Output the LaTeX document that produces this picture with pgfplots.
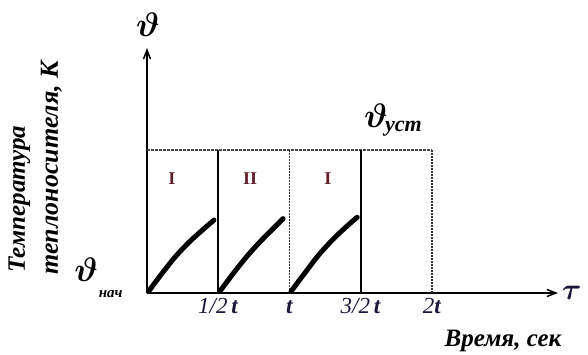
\RequirePackage{fix-cm}
\documentclass[border=0pt]{standalone}
\usepackage{amsmath,bm}
\usepackage{fontspec}
\setmainfont{Liberation Serif}
\usepackage{pgfplots}
\pgfplotsset{compat=1.18}
\usetikzlibrary{arrows.meta}
\definecolor{numred}{RGB}{95,30,40}
\definecolor{ticknavy}{RGB}{30,25,60}
\newcommand{\bi}[1]{\textbf{\textit{#1}}}
\begin{document}
\begin{tikzpicture}
\useasboundingbox (-147pt,-61pt) rectangle (441pt,293pt);
\begin{axis}[
  at={(0,0)}, anchor=south west,
  x=142.5pt, y=143pt,
  xmin=0, xmax=2.884, ymin=0, ymax=1.713,
  axis lines=left,
  axis line style={line width=1.5pt, -{Straight Barb[length=9pt,width=7pt]}},
  clip=false,
  xtick={0.5,1,1.5,2},
  xticklabels={{\textit{1/2}\,\bi{t}},{\bi{t}},{\textit{3/2}\,\bi{t}},{\textit{2}\bi{t}}},
  xticklabel style={font=\fontsize{23}{25}\selectfont, text=ticknavy, text height=15pt, text depth=1pt, yshift=-2pt},
  ytick=\empty,
  major tick length=0pt,
]
% top dashed line
\addplot[line width=1.8pt, gray!55!black, dash pattern=on 3pt off 1pt] coordinates {(0,1) (2,1)};
% vertical boundaries
\addplot[line width=2.2pt, black] coordinates {(0.5,0) (0.5,1)};
\addplot[line width=2.2pt, black] coordinates {(1.5,0) (1.5,1)};
\addplot[line width=1.7pt, gray!40!black, dash pattern=on 2pt off 1pt] coordinates {(1,0) (1,1)};
\addplot[line width=1.7pt, gray!40!black, dash pattern=on 2pt off 1pt] coordinates {(2,0) (2,1)};
% heating curves
\addplot[line width=5pt, black, line cap=round, smooth] coordinates {(0.01,0.01) (0.1,0.13) (0.2,0.255) (0.3,0.36) (0.4,0.45) (0.47,0.51)};
\addplot[line width=5pt, black, line cap=round, smooth] coordinates {(0.51,0.01) (0.6,0.13) (0.7,0.255) (0.8,0.365) (0.9,0.465) (0.955,0.52)};
\addplot[line width=5pt, black, line cap=round, smooth] coordinates {(1.01,0.01) (1.1,0.13) (1.2,0.26) (1.3,0.37) (1.4,0.465) (1.475,0.53)};
% zone labels
\node[text=numred, font=\bfseries\fontsize{18}{20}\selectfont] at (axis cs:0.175,0.80) {I};
\node[text=numred, font=\bfseries\fontsize{18}{20}\selectfont] at (axis cs:0.723,0.80) {II};
\node[text=numred, font=\bfseries\fontsize{18}{20}\selectfont] at (axis cs:1.27,0.80) {I};
% symbols
\node[font=\fontsize{34}{36}\selectfont] at (axis cs:0.007,1.874) {$\bm{\vartheta}$};
\node[font=\fontsize{34}{36}\selectfont] at (axis cs:1.607,1.238) {$\bm{\vartheta}$};
\node[font=\fontsize{22}{24}\selectfont] at (axis cs:1.80,1.15) {\bi{уст}};
\node[font=\fontsize{34}{36}\selectfont] at (axis cs:-0.428,0.161) {$\bm{\vartheta}$};
\node[font=\fontsize{15}{17}\selectfont] at (axis cs:-0.255,-0.005) {\bi{нач}};
\node[font=\fontsize{30}{32}\selectfont, text=ticknavy] at (axis cs:2.98,0.0) {$\bm{\tau}$};
% axis titles
\node[font=\fontsize{25}{27}\selectfont, inner sep=1pt] at (axis cs:2.50,-0.335) {\bi{Время, сек}};
\end{axis}
\node[rotate=90, anchor=base west, font=\fontsize{25}{27}\selectfont] at (-122pt,17pt) {\bi{Температура}};
\node[rotate=90, anchor=base west, font=\fontsize{26}{28}\selectfont] at (-89pt,15pt) {\bi{теплоносителя, К}};
\end{tikzpicture}
\end{document}
